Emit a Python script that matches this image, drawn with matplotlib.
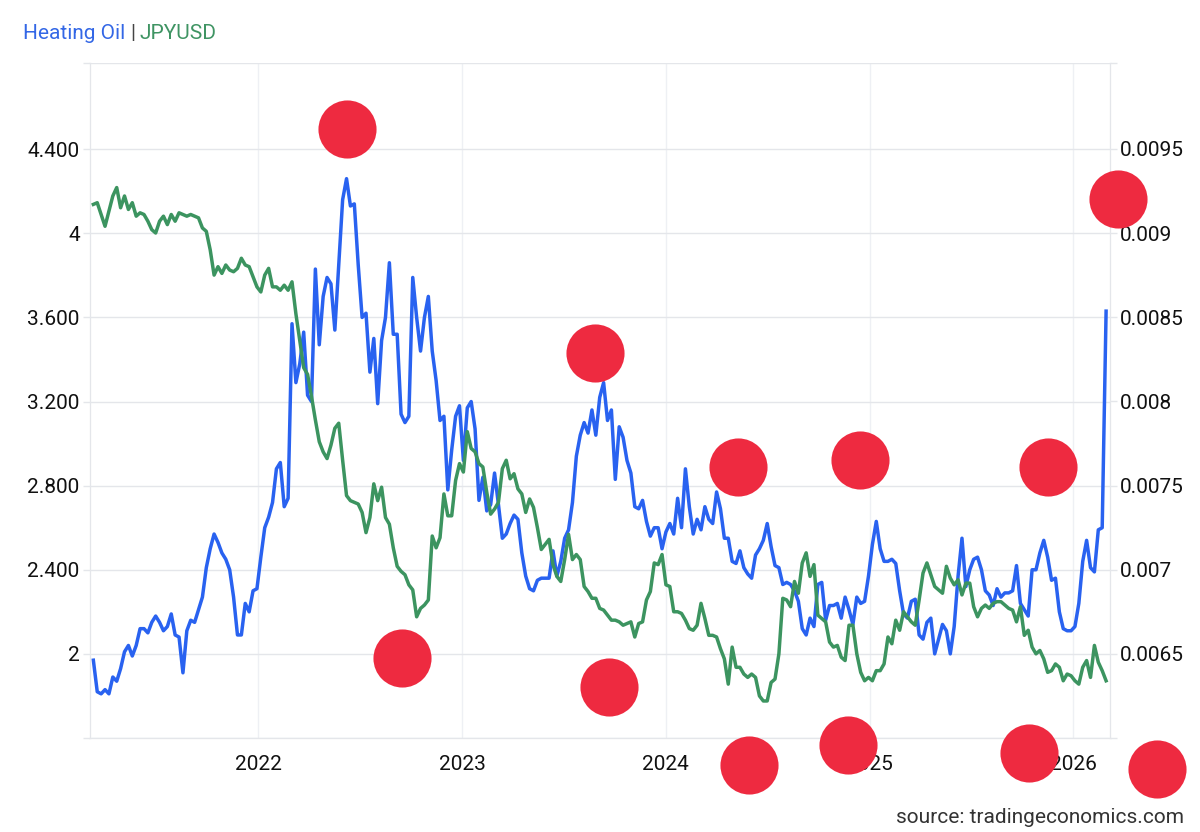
import numpy as np
import pandas as pd
import matplotlib
matplotlib.use('Agg')
import matplotlib.pyplot as plt
import matplotlib.dates as mdates

plt.rcParams['font.family'] = ['Roboto', 'DejaVu Sans']

# weekly readings, heating oil (left axis)
heating_oil = [
    1.97, 1.82, 1.81, 1.83, 1.81, 1.89, 1.87, 1.93, 2.01, 2.04,
    1.99, 2.04, 2.12, 2.12, 2.10, 2.15, 2.18, 2.15, 2.11, 2.13,
    2.19, 2.09, 2.08, 1.91, 2.11, 2.16, 2.15, 2.21, 2.27, 2.41,
    2.50, 2.57, 2.53, 2.48, 2.45, 2.40, 2.27, 2.09, 2.09, 2.24,
    2.20, 2.30, 2.31, 2.46, 2.60, 2.65, 2.72, 2.88, 2.91, 2.70,
    2.74, 3.57, 3.29, 3.38, 3.53, 3.23, 3.20, 3.83, 3.47, 3.70,
    3.79, 3.76, 3.54, 3.85, 4.16, 4.26, 4.13, 4.14, 3.85, 3.60,
    3.62, 3.34, 3.50, 3.19, 3.49, 3.60, 3.86, 3.52, 3.52, 3.14,
    3.10, 3.13, 3.79, 3.60, 3.44, 3.60, 3.70, 3.44, 3.30, 3.11,
    3.13, 2.78, 2.97, 3.13, 3.18, 2.92, 3.17, 3.20, 3.07, 2.73,
    2.84, 2.68, 2.71, 2.86, 2.71, 2.55, 2.57, 2.62, 2.66, 2.64,
    2.48, 2.37, 2.31, 2.30, 2.35, 2.36, 2.36, 2.36, 2.49, 2.37,
    2.44, 2.55, 2.59, 2.72, 2.94, 3.04, 3.10, 3.05, 3.16, 3.04,
    3.22, 3.29, 3.11, 3.16, 2.83, 3.08, 3.03, 2.92, 2.86, 2.70,
    2.69, 2.73, 2.63, 2.56, 2.60, 2.60, 2.50, 2.58, 2.62, 2.57,
    2.74, 2.60, 2.88, 2.70, 2.57, 2.64, 2.59, 2.70, 2.64, 2.62,
    2.77, 2.69, 2.55, 2.55, 2.44, 2.43, 2.49, 2.41, 2.38, 2.36,
    2.47, 2.50, 2.54, 2.62, 2.51, 2.42, 2.41, 2.33, 2.34, 2.33,
    2.30, 2.25, 2.12, 2.09, 2.17, 2.13, 2.33, 2.34, 2.16, 2.23,
    2.23, 2.24, 2.17, 2.27, 2.21, 2.14, 2.27, 2.24, 2.25, 2.37,
    2.52, 2.63, 2.50, 2.44, 2.44, 2.45, 2.43, 2.30, 2.19, 2.17,
    2.25, 2.26, 2.09, 2.07, 2.15, 2.17, 2.00, 2.07, 2.14, 2.11,
    2.00, 2.13, 2.37, 2.55, 2.32, 2.40, 2.45, 2.46, 2.40, 2.30,
    2.28, 2.23, 2.31, 2.27, 2.29, 2.29, 2.30, 2.42, 2.24, 2.21,
    2.18, 2.40, 2.40, 2.48, 2.54, 2.46, 2.35, 2.36, 2.20, 2.12,
    2.11, 2.11, 2.13, 2.24, 2.44, 2.54, 2.41, 2.39, 2.59, 2.60,
    3.63,
]

# weekly readings, JPYUSD (right axis)
jpyusd = [
    0.00917, 0.00918, 0.00911, 0.00904, 0.00913, 0.00922, 0.00927, 0.00915, 0.00922, 0.00914,
    0.00918, 0.00910, 0.00912, 0.00911, 0.00907, 0.00902, 0.00900, 0.00907, 0.00910, 0.00905,
    0.00911, 0.00907, 0.00912, 0.00911, 0.00910, 0.00911, 0.00910, 0.00909, 0.00903, 0.00901,
    0.00890, 0.00875, 0.00880, 0.00876, 0.00881, 0.00878, 0.00877, 0.00879, 0.00885, 0.00881,
    0.00880, 0.00874, 0.00868, 0.00865, 0.00875, 0.00879, 0.00868, 0.00868, 0.00866, 0.00869,
    0.00866, 0.00871, 0.00852, 0.00836, 0.00820, 0.00816, 0.00803, 0.00789, 0.00776, 0.00770,
    0.00766, 0.00774, 0.00784, 0.00787, 0.00765, 0.00744, 0.00741, 0.00740, 0.00739, 0.00734,
    0.00722, 0.00731, 0.00751, 0.00741, 0.00749, 0.00731, 0.00727, 0.00713, 0.00702, 0.00699,
    0.00697, 0.00691, 0.00688, 0.00672, 0.00677, 0.00679, 0.00682, 0.00720, 0.00713, 0.00719,
    0.00745, 0.00732, 0.00732, 0.00753, 0.00763, 0.00758, 0.00782, 0.00772, 0.00770, 0.00763,
    0.00761, 0.00746, 0.00733, 0.00736, 0.00740, 0.00760, 0.00765, 0.00754, 0.00757, 0.00748,
    0.00745, 0.00734, 0.00742, 0.00737, 0.00725, 0.00712, 0.00715, 0.00718, 0.00703, 0.00696,
    0.00693, 0.00706, 0.00721, 0.00706, 0.00709, 0.00706, 0.00690, 0.00687, 0.00683, 0.00683,
    0.00677, 0.00676, 0.00673, 0.00670, 0.00670, 0.00669, 0.00667, 0.00668, 0.00669, 0.00660,
    0.00668, 0.00669, 0.00682, 0.00687, 0.00704, 0.00703, 0.00709, 0.00691, 0.00690, 0.00675,
    0.00675, 0.00674, 0.00670, 0.00665, 0.00664, 0.00667, 0.00680, 0.00671, 0.00661, 0.00661,
    0.00660, 0.00653, 0.00647, 0.00632, 0.00654, 0.00642, 0.00642, 0.00638, 0.00636, 0.00638,
    0.00636, 0.00625, 0.00622, 0.00622, 0.00633, 0.00635, 0.00650, 0.00683, 0.00682, 0.00678,
    0.00693, 0.00686, 0.00704, 0.00710, 0.00696, 0.00703, 0.00673, 0.00671, 0.00669, 0.00657,
    0.00654, 0.00655, 0.00648, 0.00646, 0.00667, 0.00667, 0.00650, 0.00639, 0.00634, 0.00636,
    0.00634, 0.00640, 0.00640, 0.00644, 0.00660, 0.00656, 0.00670, 0.00664, 0.00675, 0.00672,
    0.00669, 0.00667, 0.00682, 0.00698, 0.00704, 0.00697, 0.00690, 0.00688, 0.00686, 0.00702,
    0.00695, 0.00691, 0.00694, 0.00685, 0.00692, 0.00692, 0.00678, 0.00672, 0.00677, 0.00679,
    0.00677, 0.00680, 0.00681, 0.00681, 0.00679, 0.00677, 0.00676, 0.00669, 0.00678, 0.00661,
    0.00664, 0.00654, 0.00650, 0.00652, 0.00647, 0.00639, 0.00640, 0.00644, 0.00642, 0.00634,
    0.00638, 0.00637, 0.00634, 0.00632, 0.00642, 0.00646, 0.00636, 0.00655, 0.00645, 0.00640,
    0.00634,
]

# big red dots laid over the chart, read against the right axis
dot_dates = ['2022-06-09', '2022-09-15', '2023-08-28', '2023-09-21', '2024-05-10', '2024-12-14',
             '2025-11-17', '2024-05-30', '2024-11-24', '2025-10-14', '2026-05-31', '2026-03-22']
dot_values = [0.009618, 0.006473, 0.008286, 0.006301, 0.007609, 0.00765,
              0.007609, 0.005837, 0.005956, 0.005908, 0.005813, 0.009202]

# the top tick sits just above the last round number, the plot area is a bit taller
left_ticks = [1.6, 2, 2.4, 2.8, 3.2, 3.6, 4, 4.4, 4.81]
left_labels = ['', '2', '2.400', '2.800', '3.200', '3.600', '4', '4.400', '']
right_ticks = [0.006, 0.0065, 0.007, 0.0075, 0.008, 0.0085, 0.009, 0.0095, 0.01001]
right_labels = ['', '0.0065', '0.007', '0.0075', '0.008', '0.0085', '0.009', '0.0095', '']

# roughly weekly, first and last date
dates = pd.date_range('2021-03-11', '2026-03-01', periods=len(heating_oil))

blue = '#2962f0'
green = '#3c9460'
gridcol = '#e4e6ea'
vgridcol = '#eef0f4'

fig = plt.figure(figsize=(12, 8.32), dpi=100)
ax1 = fig.add_axes([90/1200, 1-738/832, 1020/1200, 675/832])
ax2 = ax1.twinx()

ax1.plot(dates, heating_oil, color=blue, lw=2.5, solid_joinstyle='round')
ax2.plot(dates, jpyusd, color=green, lw=2.5, solid_joinstyle='round')
ax2.scatter(pd.to_datetime(dot_dates), dot_values, s=1750, color='#ee2a40', linewidths=0,
            clip_on=False, zorder=10)

ax1.set_xlim(pd.Timestamp('2021-03-05'), pd.Timestamp('2026-03-08'))
ax1.set_ylim(1.6, 4.81)
ax2.set_ylim(0.006, 0.01001)

ax1.set_yticks(left_ticks)
ax1.set_yticklabels(left_labels)
ax2.set_yticks(right_ticks)
ax2.set_yticklabels(right_labels)
ax1.xaxis.set_major_locator(mdates.YearLocator())
ax1.xaxis.set_major_formatter(mdates.DateFormatter('%Y'))

ax1.grid(axis='y', color=gridcol, lw=1)
ax1.grid(axis='x', color=vgridcol, lw=1)
ax1.set_axisbelow(True)
ax1.tick_params(axis='y', length=5, width=1, color=gridcol, labelsize=15, labelcolor='#111111', pad=2.4)
ax1.tick_params(axis='x', length=0, labelsize=15, labelcolor='#111111', pad=12.5)
ax2.tick_params(axis='y', length=5, width=1, color=gridcol, labelsize=15, labelcolor='#111111', pad=2)

for ax in (ax1, ax2):
    ax.spines['top'].set_visible(False)
    ax.spines['left'].set_color(gridcol)
    ax.spines['right'].set_color(gridcol)
    ax.spines['bottom'].set_color(gridcol)
    ax.patch.set_visible(False)

# title is three pieces because of the colours
fig.text(23/1200, 1-39/832, 'Heating Oil', color='#3367e6', fontsize=15, va='baseline')
fig.text(130/1200, 1-39/832, '|', color='#444444', fontsize=15, va='baseline')
fig.text(140/1200, 1-39/832, 'JPYUSD', color='#3f9463', fontsize=15, va='baseline')
fig.text(1184/1200, 1-823/832, 'source: tradingeconomics.com', color='#333333', fontsize=15,
         ha='right', va='baseline')

fig.savefig('out.png', dpi=100)
